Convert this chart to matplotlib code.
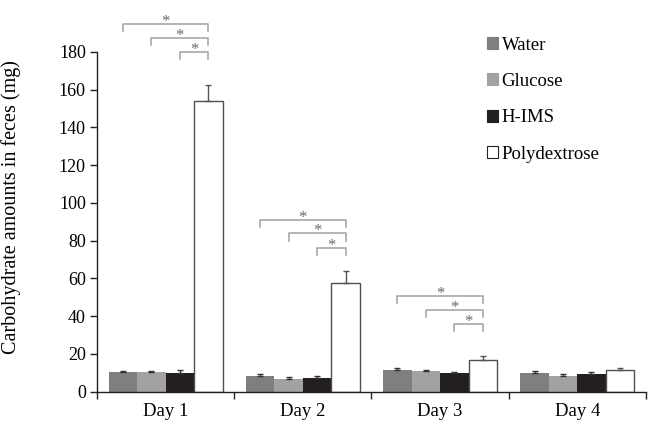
import matplotlib
matplotlib.use("Agg")
import matplotlib.pyplot as plt
from matplotlib.patches import Patch
import numpy as np

plt.rcParams['font.family'] = ['Liberation Serif', 'DejaVu Serif']

days = ["Day 1", "Day 2", "Day 3", "Day 4"]
series = ["Water", "Glucose", "H-IMS", "Polydextrose"]
water = [10.4, 8.5, 11.3, 9.7]
glucose = [10.2, 6.9, 10.8, 8.5]
hims = [10.0, 7.3, 9.7, 9.2]
poly = [154.2, 57.8, 16.8, 11.3]
water_err = [0.7, 0.9, 1.1, 1.1]
glucose_err = [0.6, 0.7, 0.7, 0.7]
hims_err = [1.3, 0.8, 0.7, 1.1]
poly_err = [8.5, 6.0, 2.0, 1.1]
# significance brackets: (day index, from series index, to series index, bracket height)
brackets = [
    (0, 0, 3, 194.9), (0, 1, 3, 187.4), (0, 2, 3, 180.2),
    (1, 0, 3, 91.0), (1, 1, 3, 83.9), (1, 2, 3, 76.3),
    (2, 0, 3, 50.7), (2, 1, 3, 43.3), (2, 2, 3, 35.8),
]

colors = ["#7f7f80", "#a2a2a3", "#231f20", "#ffffff"]
edges = ["none", "none", "none", "#505050"]
ecolors = ["#333333", "#333333", "#333333", "#555555"]
values = [water, glucose, hims, poly]
errs = [water_err, glucose_err, hims_err, poly_err]

fig = plt.figure(figsize=(6.48, 4.22), dpi=100)
ax = fig.add_axes([0.1497, 0.0718, 0.847, 0.805])

width = 0.2075
x = np.arange(len(days))
offsets = (np.arange(4) - 1.5) * width
for i in range(4):
    ax.bar(x + offsets[i], values[i], width, color=colors[i],
           edgecolor=edges[i], linewidth=1.0 if i == 3 else 0, zorder=2)
    ax.errorbar(x + offsets[i], values[i], yerr=[np.zeros(4), errs[i]],
                fmt='none', ecolor=ecolors[i], elinewidth=1.0, capsize=2.5,
                capthick=1.0, zorder=3)

drop = 3.8
for d, a, b, h in brackets:
    xa = x[d] + offsets[a]
    xb = x[d] + offsets[b]
    ax.plot([xa, xa, xb, xb], [h - drop, h, h, h - drop], color="#a8a8a8",
            lw=1.2, clip_on=False, zorder=4)
    ax.annotate("*", xy=((xa + xb) / 2, h), xytext=(0, 2), textcoords='offset pixels',
                ha="center", va="center", fontsize=12, color="#6a6a6a",
                annotation_clip=False)

ax.set_xlim(-0.5, 3.5)
ax.set_ylim(0, 180)
ax.set_yticks(np.arange(0, 181, 20))
ax.set_xticks(np.arange(-0.5, 3.6, 1.0))
ax.set_xticklabels([])
ax.set_xticks(x, minor=True)
ax.set_xticklabels(days, minor=True, fontsize=13.5)
ax.tick_params(axis='x', which='major', direction='out', length=5, width=1, color='#222222')
ax.tick_params(axis='x', which='minor', length=0, pad=8)
ax.tick_params(axis='y', direction='out', length=5, width=1, labelsize=13, color='#222222', pad=3)
for s in ['top', 'right']:
    ax.spines[s].set_visible(False)
for s in ['left', 'bottom']:
    ax.spines[s].set_color('#222222')
    ax.spines[s].set_linewidth(1.0)

ax.set_ylabel("Carbohydrate amounts in feces (mg)", fontsize=14.5)
ax.yaxis.set_label_coords(-0.139, 0.544)

handles = [Patch(facecolor=colors[i], edgecolor=('#222222' if i == 3 else colors[i]),
                 linewidth=0.8) for i in range(4)]
leg = ax.legend(handles, series, loc='upper left', bbox_to_anchor=(0.71, 1.045),
                frameon=False, fontsize=13.5, handlelength=0.6, handleheight=0.6,
                handletextpad=0.2, labelspacing=1.03, borderpad=0, borderaxespad=0)

fig.savefig("out.png", dpi=100)
